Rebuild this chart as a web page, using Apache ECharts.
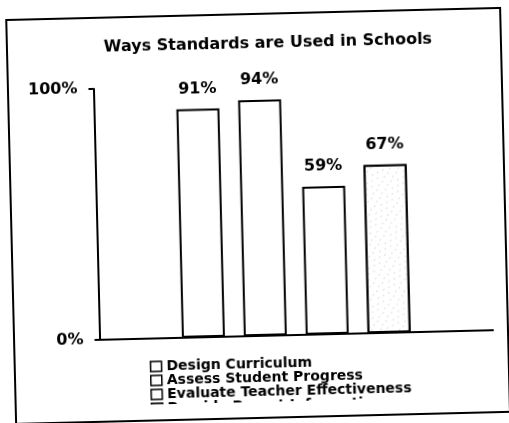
<!DOCTYPE html>
<html>
<head>
<meta charset="utf-8">
<script src="https://cdn.jsdelivr.net/npm/echarts@6/dist/echarts.min.js"></script>
<style>
  html, body { margin: 0; padding: 0; background: #fff; overflow: hidden; }
  #chart { width: 509px; height: 423px; transform: rotate(-1.4deg); transform-origin: 50% 50%; }
</style>
</head>
<body>
<div id="chart"></div>
<script>
// Survey results: share of schools using standards for each purpose
const titleText = 'Ways Standards are Used in Schools';
const purposes = [
  'Design Curriculum',
  'Assess Student Progress',
  'Evaluate Teacher Effectiveness',
  'Provide Parent Information'
];
const percentUsed = [91, 94, 59, 67];
const axisMin = 0;
const axisMax = 100;
const axisStep = 100;

const FONT = 'DejaVu Sans';

const chart = echarts.init(document.getElementById('chart'), null, { renderer: 'canvas' });

// stippled fill for the last bar
const stipple = {
  symbol: 'circle',
  symbolSize: 0.8,
  color: 'rgba(0,0,0,0.6)',
  backgroundColor: '#ffffff',
  dashArrayX: [[1, 5], [0, 3, 1, 4]],
  dashArrayY: [2, 3],
  rotation: 0.6
};

const series = purposes.map((name, i) => {
  const itemStyle = {
    color: '#ffffff',
    borderColor: '#000000',
    borderWidth: 2
  };
  if (i === 3) itemStyle.decal = stipple;
  return {
    name: name,
    type: 'bar',
    data: [percentUsed[i]],
    barWidth: 43,
    barGap: '44%',
    itemStyle: itemStyle,
    label: {
      show: true,
      position: 'top',
      distance: 12,
      formatter: '{c}%',
      color: '#000',
      fontFamily: FONT,
      fontWeight: 'bold',
      fontSize: 16
    }
  };
});

chart.setOption({
  backgroundColor: '#ffffff',
  animation: false,
  title: {
    text: titleText,
    left: 267,
    top: 31,
    textAlign: 'center',
    textStyle: {
      color: '#000',
      fontFamily: FONT,
      fontWeight: 'bold',
      fontSize: 16
    }
  },
  legend: {
    orient: 'vertical',
    left: 141,
    top: 352,
    itemWidth: 11,
    itemHeight: 10,
    itemGap: 0,
    icon: 'rect',
    selectedMode: false,
    data: purposes,
    itemStyle: { borderColor: '#000', borderWidth: 1.5 },
    textStyle: {
      color: '#000',
      fontFamily: FONT,
      fontWeight: 'bold',
      fontSize: 14,
      lineHeight: 11
    }
  },
  grid: { left: 96.5, right: 19, top: 85, bottom: 87 },
  xAxis: {
    type: 'category',
    data: [''],
    axisLine: { show: true, lineStyle: { color: '#000', width: 2 } },
    axisTick: { show: false },
    axisLabel: { show: false },
    splitLine: { show: false }
  },
  yAxis: {
    type: 'value',
    min: axisMin,
    max: axisMax,
    interval: axisStep,
    axisLine: { show: true, lineStyle: { color: '#000', width: 2 } },
    axisTick: { show: true, length: 5, lineStyle: { color: '#000', width: 2 } },
    axisLabel: {
      formatter: '{value}%',
      margin: 16,
      color: '#000',
      fontFamily: FONT,
      fontWeight: 'bold',
      fontSize: 16
    },
    splitLine: { show: false }
  },
  graphic: [
    {
      type: 'rect',
      shape: { x: 11, y: 14, width: 494, height: 404 },
      style: { fill: 'none', stroke: '#000', lineWidth: 2 },
      silent: true,
      z: 10
    },
    {
      // the legend box cuts off its last entry
      type: 'rect',
      shape: { x: 130, y: 402, width: 330, height: 14 },
      style: { fill: '#ffffff' },
      silent: true,
      z: 200
    }
  ],
  series: series
});
</script>
</body>
</html>
